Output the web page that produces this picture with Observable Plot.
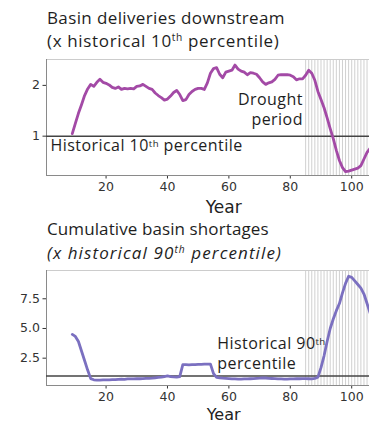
<!DOCTYPE html>
<html>
<head>
<meta charset="utf-8">
<script src="https://cdn.jsdelivr.net/npm/d3@7"></script>
<script src="https://cdn.jsdelivr.net/npm/@observablehq/plot@0.6"></script>
<style>
  body { margin: 0; background: #fff; }
  #wrap { position: relative; width: 369px; height: 422px; overflow: hidden;
          font-family: "Open Sans", sans-serif; color: #1e1e1e; }
  .t { position: absolute; left: 47px; font-size: 17px; line-height: 20px; white-space: nowrap; }
  .t sup { font-size: 0.6em; line-height: 0; vertical-align: 0.62em; }
  .panel { position: absolute; left: 0; }
  .panel svg { display: block; }
</style>
</head>
<body>
<div id="wrap">
  <div class="t" style="top:8.4px;letter-spacing:0.38px">Basin deliveries downstream</div>
  <div class="t" style="top:31.4px;letter-spacing:0.65px">(x historical 10<sup>th</sup> percentile)</div>
  <div class="panel" id="deliveries" style="top:52px"></div>
  <div class="t" style="top:219.4px;letter-spacing:0.1px">Cumulative basin shortages</div>
  <div class="t" style="top:243.4px;font-style:italic;letter-spacing:1.1px">(x historical 90<sup>th</sup> percentile)</div>
  <div class="panel" id="shortages" style="top:262px"></div>
</div>
<script>
// Simulated years start here; each value below is one year.
const firstYear = 9;

// Basin deliveries downstream, as a multiple of the historical 10th percentile
const deliveries = [
  1.05, 1.25, 1.45, 1.62, 1.80, 1.93, 2.02, 1.98, 2.06, 2.12,
  2.06, 2.04, 2.01, 1.96, 1.94, 1.97, 1.92, 1.94, 1.93, 1.94,
  1.93, 1.98, 1.99, 2.02, 1.98, 1.94, 1.92, 1.85, 1.80, 1.76,
  1.71, 1.73, 1.79, 1.86, 1.90, 1.82, 1.70, 1.72, 1.82, 1.88,
  1.92, 1.94, 1.94, 1.92, 2.05, 2.24, 2.33, 2.35, 2.22, 2.15,
  2.26, 2.28, 2.30, 2.40, 2.32, 2.28, 2.26, 2.21, 2.25, 2.24,
  2.22, 2.15, 2.07, 2.02, 2.05, 2.07, 2.12, 2.20, 2.21, 2.21,
  2.21, 2.20, 2.17, 2.11, 2.13, 2.13, 2.20, 2.30, 2.24, 2.10,
  1.88, 1.72, 1.56, 1.36, 1.15, 0.95, 0.72, 0.52, 0.38, 0.30,
  0.31, 0.33, 0.35, 0.37, 0.42, 0.55, 0.68, 0.76
];

// Cumulative basin shortages, as a multiple of the historical 90th percentile
const shortages = [
  4.50, 4.33, 3.90, 3.10, 2.30, 1.50, 0.78, 0.68, 0.66, 0.66,
  0.67, 0.67, 0.68, 0.70, 0.69, 0.72, 0.73, 0.72, 0.75, 0.76,
  0.75, 0.78, 0.77, 0.78, 0.80, 0.80, 0.82, 0.85, 0.88, 0.90,
  0.95, 1.00, 0.95, 0.92, 0.90, 0.95, 1.95, 1.95, 1.93, 1.95,
  1.96, 1.97, 1.98, 2.00, 2.00, 2.00, 1.20, 0.88, 0.85, 0.82,
  0.80, 0.78, 0.76, 0.75, 0.74, 0.74, 0.75, 0.76, 0.77, 0.78,
  0.80, 0.82, 0.85, 0.83, 0.80, 0.79, 0.78, 0.76, 0.75, 0.74,
  0.74, 0.75, 0.76, 0.77, 0.77, 0.78, 0.78, 0.77, 0.76, 0.80,
  0.90, 1.70, 2.70, 3.90, 5.00, 5.80, 6.50, 7.10, 8.00, 8.80,
  9.40, 9.30, 9.00, 8.70, 8.40, 7.90, 7.10, 6.30
];

// Years flagged as the drought period
const droughtYears = [85, 86, 87, 88, 89, 90, 91, 92, 93, 94, 95, 96, 97, 98, 99, 100, 101, 102, 103, 104, 105];

const xTicks = [20, 40, 60, 80, 100];
const deliveryTicks = [1, 2];
const shortageTicks = [2.5, 5, 7.5];
const threshold = 1;

const xDomain = [0.6, 105.8];

// Turn the "th" of ordinals into a raised, smaller suffix.
function raiseOrdinals(svg) {
  d3.select(svg).selectAll("text, tspan").each(function () {
    if (this.children.length) return;
    const m = /^(.*\d)(th)(.*)$/.exec(this.textContent);
    if (!m) return;
    const node = d3.select(this);
    node.text(null);
    node.append("tspan").text(m[1]);
    node.append("tspan").attr("baseline-shift", "38%").attr("font-size", "0.6em").text(m[2]);
    if (m[3]) node.append("tspan").text(m[3]);
  });
  d3.select(svg).selectAll('g[font-family="Open Sans"]').attr("letter-spacing", "0.45px");
  return svg;
}

function panel({values, color, yDomain, yTicks, tickFormat, height, marginTop, marginBottom, yearDy, yearSize, notes}) {
  const data = values.map((v, i) => ({year: firstYear + i, value: v}));
  const svg = Plot.plot({
    width: 369,
    height,
    marginLeft: 46,
    marginRight: 0,
    marginTop,
    marginBottom,
    style: {fontFamily: "DejaVu Sans", fontSize: "12.5px", color: "#333", background: "transparent"},
    x: {domain: xDomain, ticks: xTicks, tickSize: 3.5, tickPadding: 3.5, label: null},
    y: {domain: yDomain, ticks: yTicks, tickFormat, tickSize: 3.5, tickPadding: 3, label: null},
    marks: [
      Plot.ruleX(droughtYears, {stroke: "#d0d0d0", strokeWidth: 1}),
      Plot.ruleY([yDomain[1]], {stroke: "#cccccc", strokeWidth: 1}),
      Plot.ruleX([xDomain[0]], {stroke: "#8a8a8a", strokeWidth: 1}),
      Plot.ruleY([yDomain[0]], {stroke: "#8a8a8a", strokeWidth: 1}),
      Plot.ruleY([threshold], {stroke: "#444", strokeWidth: 1.5}),
      Plot.line(data, {x: "year", y: "value", stroke: color, strokeWidth: 2.8, strokeLinejoin: "round"}),
      ...notes.map(n => Plot.text([n.text], {
        x: () => n.year, y: () => n.value,
        textAnchor: n.anchor, lineAnchor: "bottom", lineHeight: n.lineHeight || 1,
        fontFamily: "Open Sans", fontSize: 16, fill: "#1e1e1e"
      })),
      Plot.text(["Year"], {x: () => 58.3, frameAnchor: "bottom", dy: yearDy, lineAnchor: "bottom", fontSize: yearSize, fill: "#222"})
    ]
  });
  return raiseOrdinals(svg);
}

document.getElementById("deliveries").append(panel({
  values: deliveries,
  color: "#a34aa6",
  yDomain: [0.225, 2.51],
  yTicks: deliveryTicks,
  tickFormat: d3.format("d"),
  height: 164,
  marginTop: 7,
  marginBottom: 41,
  yearDy: 37,
  yearSize: 17,
  notes: [
    {text: "Historical 10th percentile", year: 1.9, value: 0.70, anchor: "start"},
    {text: "Drought\nperiod", year: 84.1, value: 1.21, anchor: "end", lineHeight: 1.31}
  ]
}));

document.getElementById("shortages").append(panel({
  values: shortages,
  color: "#7b70c0",
  yDomain: [0.2, 9.88],
  yTicks: shortageTicks,
  tickFormat: d3.format(".1f"),
  height: 160,
  marginTop: 8,
  marginBottom: 37,
  yearDy: 34.5,
  yearSize: 16,
  notes: [
    {text: "Historical 90th\npercentile", year: 56.2, value: 1.63, anchor: "start", lineHeight: 1.25}
  ]
}));
</script>
</body>
</html>
